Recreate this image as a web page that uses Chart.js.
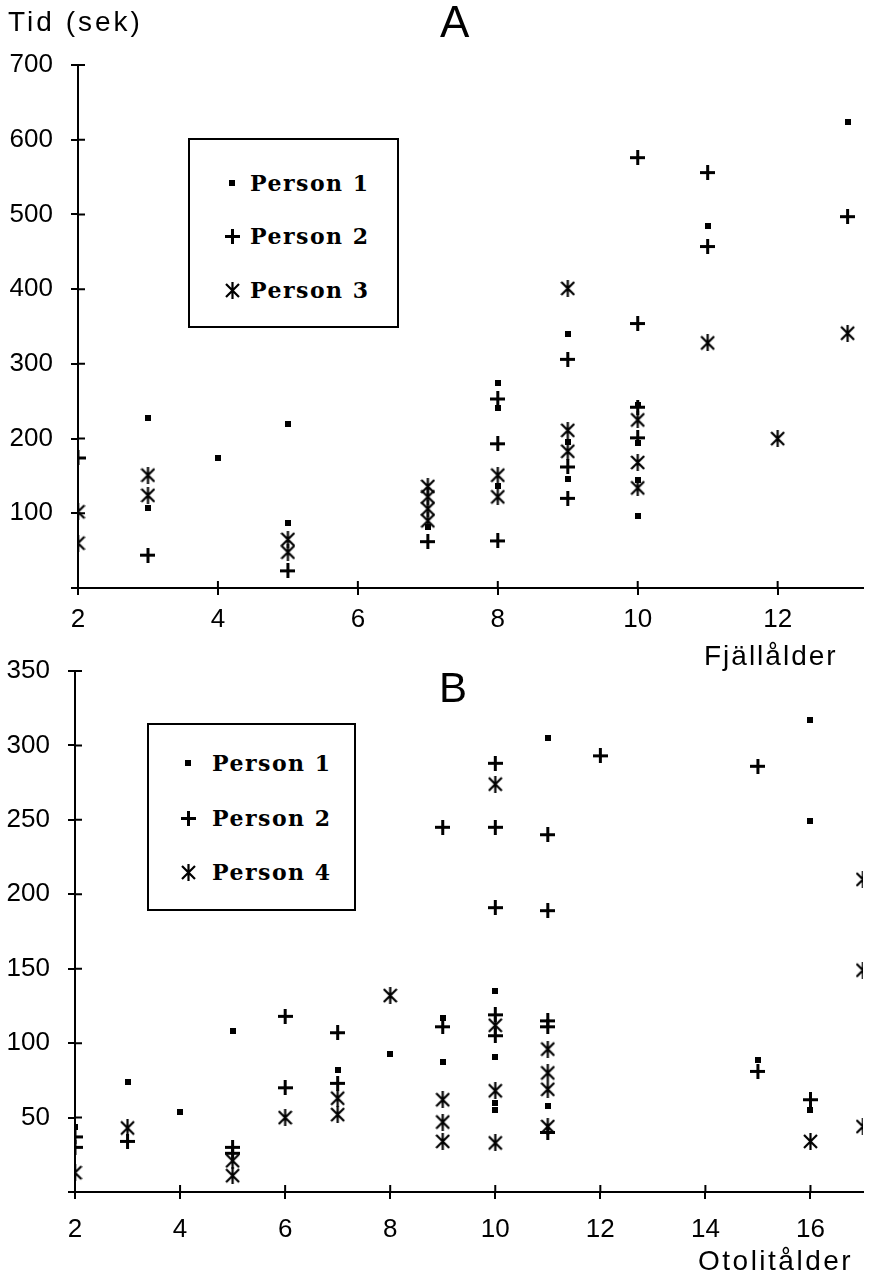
<!DOCTYPE html>
<html>
<head>
<meta charset="utf-8">
<script src="https://cdn.jsdelivr.net/npm/chart.js@4.4.1/dist/chart.umd.min.js"></script>
<style>
  body { margin: 0; background: #fff; width: 871px; height: 1276px; position: relative; overflow: hidden; }
  .panel { position: absolute; left: 0; width: 871px; }
  .txt { position: absolute; color: #000; white-space: pre; line-height: 1; font-family: 'Liberation Sans', Arial, sans-serif; }
  .legend { position: absolute; border: 2px solid #000; background: #fff; box-sizing: border-box; }
  .legend .row { position: absolute; left: 0; height: 30px; }
  .legend .row canvas { position: absolute; }
  .legend .row span { position: absolute; font-family: 'DejaVu Serif', serif; font-weight: bold; font-size: 22px; letter-spacing: 1.5px; line-height: 1; white-space: pre; }
</style>
</head>
<body>

<div class="panel" style="top:0;height:640px;"><canvas id="chartA" width="871" height="640"></canvas></div>
<div class="panel" style="top:640px;height:636px;"><canvas id="chartB" width="871" height="636"></canvas></div>

<div class="txt" style="left:8px;top:8px;font-size:28px;letter-spacing:3px;">Tid (sek)</div>
<div class="txt" style="left:440px;top:0px;font-size:44px;">A</div>
<div class="txt" style="left:704px;top:642px;font-size:28px;letter-spacing:2px;">Fjällålder</div>
<div class="txt" style="left:439px;top:667px;font-size:42px;">B</div>
<div class="txt" style="left:698px;top:1247px;font-size:28px;letter-spacing:2.5px;">Otolitålder</div>

<div class="legend" id="legendA" style="left:188px;top:138px;width:211px;height:190px;"></div>
<div class="legend" id="legendB" style="left:147px;top:723px;width:209px;height:188px;"></div>

<script>
// ---- chart A: Fjällålder (scale age) vs time ----
const a_p1_age  = [3, 3, 4, 5, 5, 7, 8, 8, 8, 9, 9, 9, 10, 10, 10, 10, 11, 13];
const a_p1_time = [227, 107, 174, 219, 87, 82, 274, 241, 136, 340, 195, 146, 245, 194, 144, 96, 485, 624];
const a_p2_age  = [2, 3, 5, 7, 8, 8, 8, 9, 9, 9, 10, 10, 10, 10, 11, 11, 13];
const a_p2_time = [174, 44, 23, 62, 253, 193, 63, 306, 162, 120, 576, 354, 242, 201, 556, 457, 497];
const a_p3_age  = [2, 2, 3, 3, 5, 5, 7, 7, 7, 7, 8, 8, 9, 9, 9, 10, 10, 10, 11, 12, 13];
const a_p3_time = [102, 60, 151, 124, 65, 48, 136, 122, 106, 90, 151, 122, 401, 211, 183, 225, 168, 134, 328, 200, 341];

// ---- chart B: Otolitålder (otolith age) vs time ----
const b_p1_age  = [2, 3, 4, 5, 7, 8, 9, 9, 10, 10, 10, 10, 11, 11, 15, 16, 16, 16];
const b_p1_time = [44, 74, 54, 108, 82, 93, 117, 87, 135, 91, 60, 55, 305, 58, 89, 317, 249, 55];
const b_p2_age  = [2, 2, 3, 5, 5, 6, 6, 7, 7, 9, 9, 10, 10, 10, 10, 10, 11, 11, 11, 11, 11, 12, 15, 15, 16];
const b_p2_time = [37, 30, 34, 30, 26, 118, 70, 107, 73, 245, 111, 288, 245, 191, 119, 105, 240, 189, 115, 111, 40, 293, 286, 81, 62];
const b_p4_age  = [2, 3, 5, 5, 6, 7, 7, 8, 9, 9, 9, 10, 10, 10, 10, 11, 11, 11, 11, 16, 17, 17, 17];
const b_p4_time = [13, 43, 21, 11, 50, 63, 52, 132, 62, 47, 34, 274, 112, 68, 33, 96, 80, 69, 44, 34, 210, 149, 44];

const legendA = ['Person 1', 'Person 2', 'Person 3'];
const legendB = ['Person 1', 'Person 2', 'Person 4'];

// marker shapes drawn once on small canvases, used for points and legend
function makeMarker(kind) {
  const c = document.createElement('canvas');
  const g = c.getContext('2d');
  g.fillStyle = '#000';
  g.strokeStyle = '#000';
  if (kind === 'square') {
    c.width = 6; c.height = 6;
    g.fillRect(0, 0, 6, 6);
  } else if (kind === 'plus') {
    c.width = 15; c.height = 15;
    g.fillRect(6, 0, 3, 15);
    g.fillRect(0, 6, 15, 3);
  } else {
    c.width = 15; c.height = 17;
    g.lineWidth = 2.2;
    g.beginPath();
    g.moveTo(7.5, 0); g.lineTo(7.5, 17);
    g.moveTo(1, 2); g.lineTo(14, 15);
    g.moveTo(14, 2); g.lineTo(1, 15);
    g.stroke();
  }
  return c;
}

const kinds = ['square', 'plus', 'star'];

function pts(xs, ys) {
  return xs.map((x, i) => ({ x: x, y: ys[i] }));
}

// short tick marks reaching into the plot, like the printed axes
const innerTicks = {
  id: 'innerTicks',
  afterDraw(chart) {
    const { ctx, chartArea, scales } = chart;
    ctx.save();
    ctx.strokeStyle = '#000';
    ctx.lineWidth = 2;
    ctx.beginPath();
    scales.x.ticks.forEach(t => {
      const px = scales.x.getPixelForValue(t.value);
      ctx.moveTo(px, chartArea.bottom);
      ctx.lineTo(px, chartArea.bottom - 7);
    });
    scales.y.ticks.forEach(t => {
      const py = scales.y.getPixelForValue(t.value);
      ctx.moveTo(chartArea.left, py);
      ctx.lineTo(chartArea.left + 7, py);
    });
    ctx.stroke();
    ctx.restore();
  }
};

function makeChart(id, sets, xMax, yMax, yStep, padTop, yWidth, xHeight, xPad) {
  const tickFont = { family: "'Liberation Sans', Arial, sans-serif", size: 26, lineHeight: 1 };
  return new Chart(document.getElementById(id), {
    type: 'scatter',
    data: {
      datasets: sets.map((s, i) => ({
        label: s.label,
        data: pts(s.x, s.y),
        pointStyle: makeMarker(kinds[i]),
        pointRadius: 7,
        clip: 0
      }))
    },
    options: {
      responsive: false,
      animation: false,
      devicePixelRatio: 1,
      layout: { padding: { top: padTop, right: 0, left: 0, bottom: 0 } },
      plugins: { legend: { display: false }, tooltip: { enabled: false } },
      scales: {
        x: {
          type: 'linear', min: 2, max: xMax,
          ticks: { stepSize: 2, includeBounds: false, color: '#000', font: tickFont, padding: xPad, maxRotation: 0 },
          grid: { drawOnChartArea: false, drawTicks: true, tickLength: 7, color: '#000', lineWidth: 2 },
          border: { display: true, color: '#000', width: 2 },
          afterFit: (scale) => { scale.height = xHeight; }
        },
        y: {
          type: 'linear', min: 0, max: yMax,
          ticks: { stepSize: yStep, color: '#000', font: tickFont, padding: 18,
                   callback: (v) => v === 0 ? '' : v },
          grid: { drawOnChartArea: false, drawTicks: true, tickLength: 7, color: '#000', lineWidth: 2 },
          border: { display: true, color: '#000', width: 2 },
          afterFit: (scale) => { scale.width = yWidth; }
        }
      }
    },
    plugins: [innerTicks]
  });
}

makeChart('chartA', [
  { label: legendA[0], x: a_p1_age, y: a_p1_time },
  { label: legendA[1], x: a_p2_age, y: a_p2_time },
  { label: legendA[2], x: a_p3_age, y: a_p3_time }
], 13.22, 700, 100, 65, 78, 52, 12);

makeChart('chartB', [
  { label: legendB[0], x: b_p1_age, y: b_p1_time },
  { label: legendB[1], x: b_p2_age, y: b_p2_time },
  { label: legendB[2], x: b_p4_age, y: b_p4_time }
], 17, 350, 50, 30, 75, 84, 18);

// boxed legends inside the plots
function buildLegend(id, labels, rowTops, markX, textX) {
  const box = document.getElementById(id);
  labels.forEach((lab, i) => {
    const row = document.createElement('div');
    row.className = 'row';
    row.style.top = rowTops[i] + 'px';
    row.style.width = '100%';
    const m = makeMarker(kinds[i]);
    m.style.left = (markX - m.width / 2) + 'px';
    m.style.top = (15 - m.height / 2) + 'px';
    const s = document.createElement('span');
    s.textContent = lab;
    s.style.left = textX + 'px';
    s.style.top = '4px';
    row.appendChild(m);
    row.appendChild(s);
    box.appendChild(row);
  });
}
buildLegend('legendA', legendA, [28, 81, 135], 42, 60);
buildLegend('legendB', legendB, [23, 78, 132], 39, 63);
</script>
</body>
</html>
